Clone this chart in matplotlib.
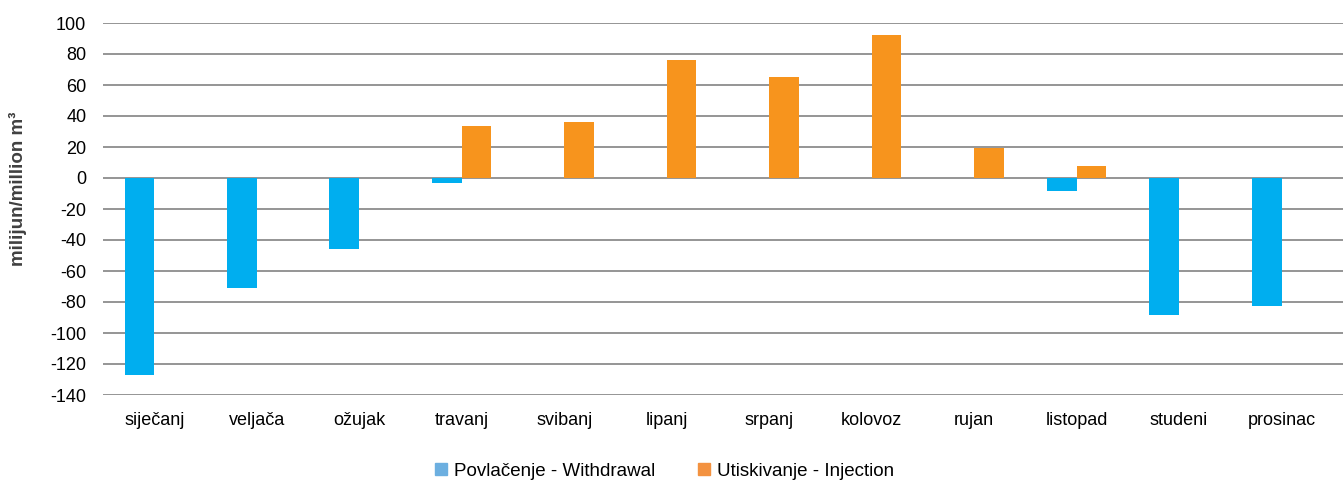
import numpy as np
import matplotlib
matplotlib.use("Agg")
import matplotlib.pyplot as plt
from matplotlib.patches import Patch

# ------------------------------------------------------------
#  DATA
# ------------------------------------------------------------
months = ["siječanj", "veljača", "ožujak", "travanj", "svibanj", "lipanj",
          "srpanj", "kolovoz", "rujan", "listopad", "studeni", "prosinac"]
withdrawal = [-127, -71, -45.5, -3.3, 0, 0, 0, 0, 0, -8.5, -88.5, -82.5]
injection = [0, 0, 0, 33.5, 36, 76, 65, 92, 19.5, 7.6, 0, 0]
yticks = list(range(-140, 101, 20))

BLUE = "#00AEEF"
ORANGE = "#F7941D"
BLUE_LEG = "#6CAFE0"
ORANGE_LEG = "#F39240"
GRID = "#8C8C8C"

plt.rcParams["font.family"] = ["Liberation Sans", "DejaVu Sans"]

# ------------------------------------------------------------
#  FIGURE
# ------------------------------------------------------------
fig = plt.figure(figsize=(13.43, 4.82), dpi=100)
ax = fig.add_axes([103 / 1343, 1 - 395 / 482, 1 - 103 / 1343, (395 - 23) / 482])

x = np.arange(len(months))
w = 0.29
ax.bar(x - w / 2, withdrawal, w, color=BLUE, zorder=3)
ax.bar(x + w / 2, injection, w, color=ORANGE, zorder=3)

ax.set_xlim(-0.5, 11.6)
ax.set_ylim(-140, 100)
ax.set_yticks(yticks)
ax.set_yticklabels([str(v) for v in yticks])
ax.set_xticks(x)
ax.set_xticklabels(months)
ax.grid(True, axis="y", color=GRID, linewidth=1.3, zorder=0)
for s in ax.spines.values():
    s.set_visible(False)
ax.tick_params(axis="both", length=0, labelsize=13, colors="black")
ax.tick_params(axis="y", pad=12)
ax.tick_params(axis="x", pad=12)

fig.text(18 / 1343, 1 - 189 / 482, "milijun/million m³", rotation=90,
         ha="center", va="center", fontsize=13.5, fontweight="bold", color="#404040")

handles = [Patch(color=BLUE_LEG, label="Povlačenje - Withdrawal"),
           Patch(color=ORANGE_LEG, label="Utiskivanje - Injection")]
fig.legend(handles=handles, loc="center", bbox_to_anchor=(0.495, 1 - 471 / 482),
           ncol=2, frameon=False, fontsize=13.5, handlelength=0.6, handleheight=0.6,
           handletextpad=0.4, columnspacing=2.3)

fig.savefig("out.png", dpi=100)
